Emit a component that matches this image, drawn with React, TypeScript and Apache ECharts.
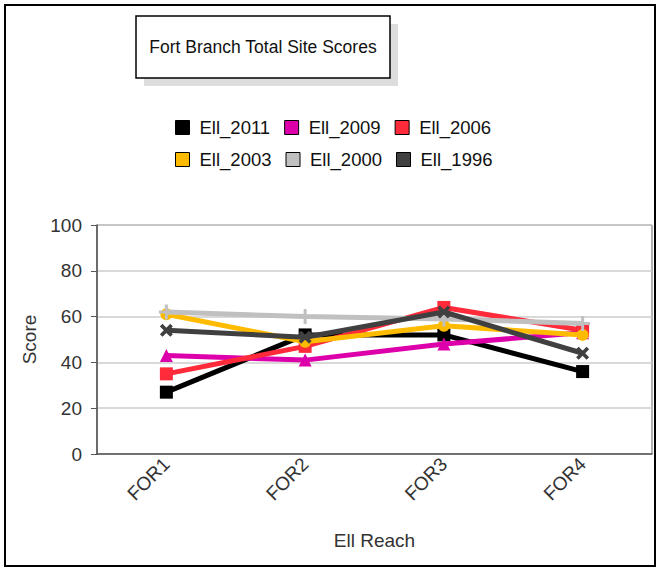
import React, { useEffect, useRef } from "react";
import * as echarts from "echarts";

const categories = ["FOR1", "FOR2", "FOR3", "FOR4"];
const seriesNames = ["Ell_2011", "Ell_2009", "Ell_2006", "Ell_2003", "Ell_2000", "Ell_1996"];
const ell2011 = [27, 52, 52, 36];
const ell2009 = [43, 41, 48, 53];
const ell2006 = [35, 47, 64, 54];
const ell2003 = [61, 49, 56, 52];
const ell2000 = [62, 60, 59, 57];
const ell1996 = [54, 51, 62, 44];
const yTicks = [0, 20, 40, 60, 80, 100];

const colors = ["#000000", "#dd00aa", "#ff2a3a", "#ffbb00", "#c0c0c0", "#404040"];
const PLUS = "path://M4,0H6V4H10V6H6V10H4V6H0V4H4Z";
const CROSS = "path://M0,2L2,0L5,3L8,0L10,2L7,5L10,8L8,10L5,7L2,10L0,8L3,5Z";
const symbols = ["rect", "triangle", "rect", "circle", PLUS, CROSS];
const symbolSizes = [13, 13, 13, 12, 15, 13];
const FONT = "'Liberation Sans', Arial, sans-serif";

export default function App() {
  const ref = useRef<HTMLDivElement>(null);
  useEffect(() => {
    document.body.style.margin = "0";
    const chart = echarts.init(ref.current!, null, { renderer: "svg" });
    const values = [ell2011, ell2009, ell2006, ell2003, ell2000, ell1996];
    const legendCommon = {
      left: 175,
      orient: "horizontal" as const,
      padding: 0,
      itemWidth: 14,
      itemHeight: 14,
      itemGap: 14,
      icon: "rect",
      itemStyle: { borderColor: "#000", borderWidth: 1 },
      textStyle: { fontSize: 18.5, color: "#111", fontFamily: FONT, padding: [0, 0, 0, 5] },
    };
    chart.setOption({
      animation: false,
      backgroundColor: "#fff",
      textStyle: { fontFamily: FONT },
      graphic: [
        { type: "rect", shape: { x: 5, y: 5, width: 650, height: 561 }, style: { fill: "none", stroke: "#000", lineWidth: 2 }, z: 100 },
        { type: "rect", shape: { x: 144, y: 24, width: 254, height: 62 }, style: { fill: "#dddddd" } },
        { type: "rect", shape: { x: 136, y: 16, width: 254, height: 62 }, style: { fill: "#fff", stroke: "#000", lineWidth: 1.5 } },
        { type: "text", x: 263, y: 47, style: { text: "Fort Branch Total Site Scores", fontSize: 17.5, fontFamily: FONT, fill: "#111", align: "center", verticalAlign: "middle" } },
      ],
      legend: [
        { ...legendCommon, top: 118, data: seriesNames.slice(0, 3) },
        { ...legendCommon, top: 150, data: seriesNames.slice(3, 6) },
      ],
      grid: { left: 97, right: 8, top: 225, bottom: 115, show: true, borderColor: "#666", borderWidth: 1, backgroundColor: "transparent" },
      xAxis: {
        type: "category",
        data: categories,
        boundaryGap: true,
        name: "Ell Reach",
        nameLocation: "middle",
        nameGap: 77,
        nameTextStyle: { fontSize: 19, color: "#333", fontFamily: FONT },
        axisLine: { lineStyle: { color: "#555", width: 1.5 } },
        axisTick: { alignWithLabel: true, length: 6, lineStyle: { color: "#555" } },
        axisLabel: { rotate: 45, fontSize: 19, color: "#333", margin: 7, fontFamily: FONT },
      },
      yAxis: {
        type: "value",
        min: yTicks[0],
        max: yTicks[yTicks.length - 1],
        interval: 20,
        name: "Score",
        nameLocation: "middle",
        nameRotate: 90,
        nameGap: 52,
        nameTextStyle: { fontSize: 19, color: "#333", fontFamily: FONT },
        axisLine: { show: true, lineStyle: { color: "#555", width: 1.5 } },
        axisTick: { show: true, length: 6, lineStyle: { color: "#555" } },
        axisLabel: { fontSize: 19, color: "#333", margin: 15, fontFamily: FONT },
        splitLine: { lineStyle: { color: "#cccccc", width: 1.5 } },
      },
      series: seriesNames.map((name, i) => ({
        name,
        type: "line",
        data: values[i],
        symbol: symbols[i],
        symbolSize: symbolSizes[i],
        showSymbol: true,
        color: colors[i],
        lineStyle: { width: 5, color: colors[i] },
        itemStyle: { color: colors[i], borderColor: colors[i], borderWidth: 0 },
        z: 2 + i,
      })),
    });
    return () => chart.dispose();
  }, []);
  return <div ref={ref} style={{ width: 660, height: 569, position: "absolute", left: 0, top: 0 }} />;
}
